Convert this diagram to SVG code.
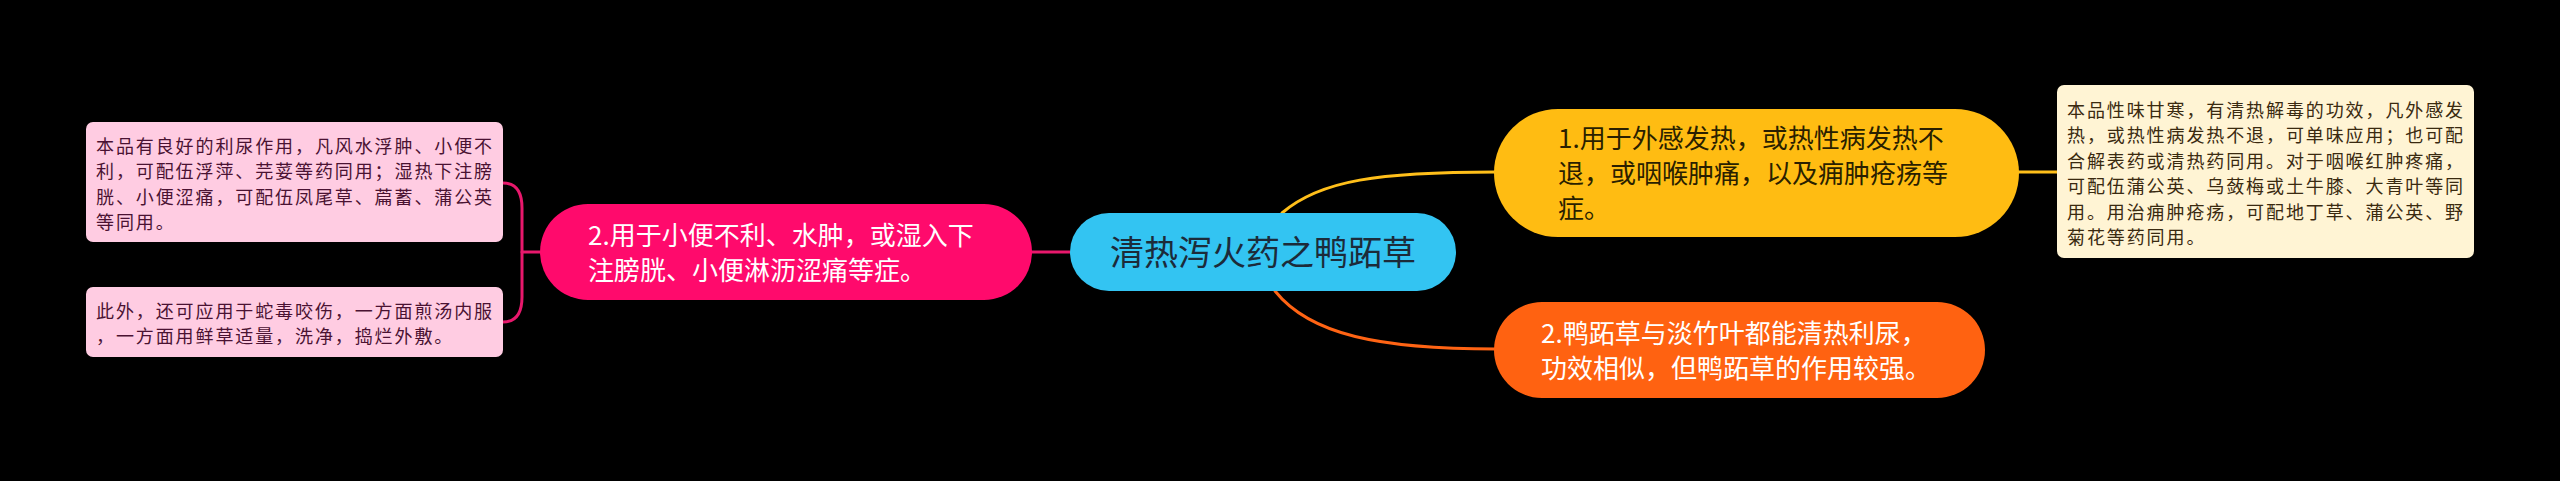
<svg xmlns="http://www.w3.org/2000/svg" width="2560" height="481" viewBox="0 0 2560 481">
<style>
text{font-family:"Noto Sans CJK SC","Noto Sans",sans-serif;}
.sm{font-size:18px;letter-spacing:1.9px;}
.big{font-size:26px;}
.conn{fill:none;stroke-width:3;stroke-linecap:round;}
</style>
<rect x="0" y="0" width="2560" height="481" fill="#000000"/>
<g id="connectors">
<path class="conn" stroke="#FFBF1A" d="M1282,213 C1320,180 1380,172 1496,172"/>
<path class="conn" stroke="#FF6414" d="M1275,291 C1310,335 1380,349 1496,349"/>
<path class="conn" stroke="#E8186C" d="M1070,252 L1031,252"/>
<path class="conn" stroke="#E8186C" d="M540,252 L522,252"/>
<path class="conn" stroke="#E8186C" d="M503,183 Q522,183 522,208 L522,297 Q522,322 503,322"/>
<path class="conn" stroke="#FFBF1A" d="M2017,172 L2057,172"/>
</g>
<g id="root">
<rect x="1070" y="213" width="386" height="78" rx="39" fill="#33C4F2"/>
<text x="1263" y="264.5" font-size="34" fill="#1C2B3A" text-anchor="middle">清热泻火药之鸭跖草</text>
</g>
<g id="n1">
<rect x="1494" y="109" width="525" height="128" rx="64" fill="#FFBC12"/>
<text class="big" fill="#2A1F00"><tspan x="1558" y="148">1.用于外感发热，或热性病发热不</tspan><tspan x="1558" y="183">退，或咽喉肿痛，以及痈肿疮疡等</tspan><tspan x="1558" y="218">症。</tspan></text>
</g>
<g id="n1a">
<rect x="2057" y="85" width="417" height="173" rx="7" fill="#FFF4D4"/>
<text class="sm" fill="#3A2A10"><tspan x="2067" y="117">本品性味甘寒，有清热解毒的功效，凡外感发</tspan><tspan x="2067" y="142.4">热，或热性病发热不退，可单味应用；也可配</tspan><tspan x="2067" y="167.8">合解表药或清热药同用。对于咽喉红肿疼痛，</tspan><tspan x="2067" y="193.2">可配伍蒲公英、乌蔹梅或土牛膝、大青叶等同</tspan><tspan x="2067" y="218.6">用。用治痈肿疮疡，可配地丁草、蒲公英、野</tspan><tspan x="2067" y="244">菊花等药同用。</tspan></text>
</g>
<g id="n2">
<rect x="1494" y="302" width="491" height="96" rx="48" fill="#FF6211"/>
<text class="big" fill="#FFFFFF"><tspan x="1541" y="343">2.鸭跖草与淡竹叶都能清热利尿，</tspan><tspan x="1541" y="378">功效相似，但鸭跖草的作用较强。</tspan></text>
</g>
<g id="n3">
<rect x="540" y="204" width="492" height="96" rx="48" fill="#FF0A6C"/>
<text class="big" fill="#FFFFFF"><tspan x="588" y="244.5">2.用于小便不利、水肿，或湿入下</tspan><tspan x="588" y="279.5">注膀胱、小便淋沥涩痛等症。</tspan></text>
</g>
<g id="n3a">
<rect x="86" y="122" width="417" height="120" rx="7" fill="#FFCCE2"/>
<text class="sm" fill="#4A1232"><tspan x="96" y="152.5">本品有良好的利尿作用，凡风水浮肿、小便不</tspan><tspan x="96" y="178">利，可配伍浮萍、芫荽等药同用；湿热下注膀</tspan><tspan x="96" y="203.5">胱、小便涩痛，可配伍凤尾草、萹蓄、蒲公英</tspan><tspan x="96" y="229">等同用。</tspan></text>
</g>
<g id="n3b">
<rect x="86" y="287" width="417" height="70" rx="7" fill="#FFCCE2"/>
<text class="sm" fill="#4A1232"><tspan x="96" y="318">此外，还可应用于蛇毒咬伤，一方面煎汤内服</tspan><tspan x="96" y="343">，一方面用鲜草适量，洗净，捣烂外敷。</tspan></text>
</g>
</svg>
